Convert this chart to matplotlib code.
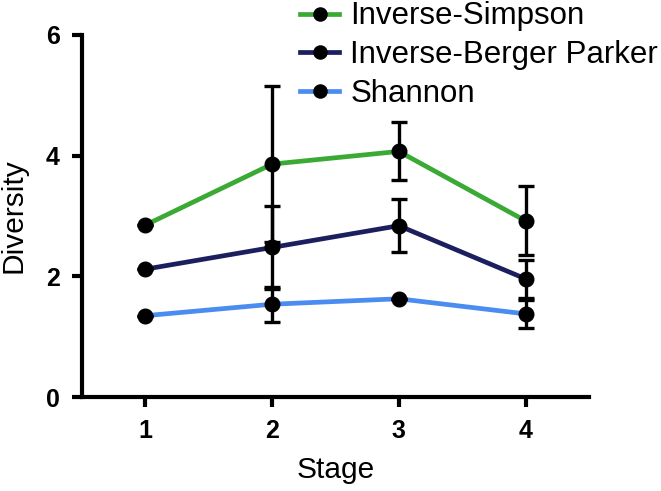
import matplotlib
matplotlib.use("Agg")
import matplotlib.pyplot as plt
import numpy as np

plt.rcParams['font.family'] = ['Liberation Sans', 'DejaVu Sans']

stages = [1, 2, 3, 4]
series_names = ["Inverse-Simpson", "Inverse-Berger Parker", "Shannon"]
inv_simpson = [2.85, 3.86, 4.07, 2.92]
inv_simpson_err = [0.0, 1.29, 0.48, 0.57]
inv_berger = [2.12, 2.48, 2.84, 1.96]
inv_berger_err = [0.0, 0.69, 0.44, 0.31]
shannon = [1.35, 1.54, 1.63, 1.38]
shannon_err = [0.0, 0.29, 0.0, 0.23]
colors = ["#3aaa35", "#1b1f5e", "#4a8cf0"]

fig = plt.figure(figsize=(6.61, 4.91), dpi=100)
ax = fig.add_axes([0.124, 0.191, 0.891 - 0.124, 0.929 - 0.191])

data = [(inv_simpson, inv_simpson_err), (inv_berger, inv_berger_err), (shannon, shannon_err)]
handles = []
for (vals, errs), name, c in zip(data, series_names, colors):
    ax.errorbar(stages, vals, yerr=errs, fmt='none', ecolor='black', elinewidth=2.4,
                capsize=6, capthick=2.4, zorder=4)
    h, = ax.plot(stages, vals, color=c, lw=3.4, marker='o', markersize=10.5,
                 markerfacecolor='black', markeredgecolor='black', label=name, zorder=3)
    handles.append(h)

ax.set_xlim(0.5, 4.5)
ax.set_ylim(0, 6)
ax.set_xticks(stages)
ax.set_yticks([0, 2, 4, 6])
for s in ['top', 'right']:
    ax.spines[s].set_visible(False)
for s in ['left', 'bottom']:
    ax.spines[s].set_linewidth(3)
ax.tick_params(axis='both', direction='out', length=7, width=3, labelsize=18, pad=9)
for lbl in ax.get_xticklabels() + ax.get_yticklabels():
    lbl.set_fontweight('bold')
ax.set_xlabel("Stage", fontsize=21.5, labelpad=9)
ax.set_ylabel("Diversity", fontsize=21.5, labelpad=13)

fig.legend(handles=handles, labels=series_names, loc='upper left',
           bbox_to_anchor=(300 / 661, 0.997), frameon=False, fontsize=22.5,
           handlelength=1.25, handletextpad=0.36, labelspacing=0.28, borderpad=0,
           borderaxespad=0, markerscale=0.9)

fig.savefig("out.png", dpi=100)
